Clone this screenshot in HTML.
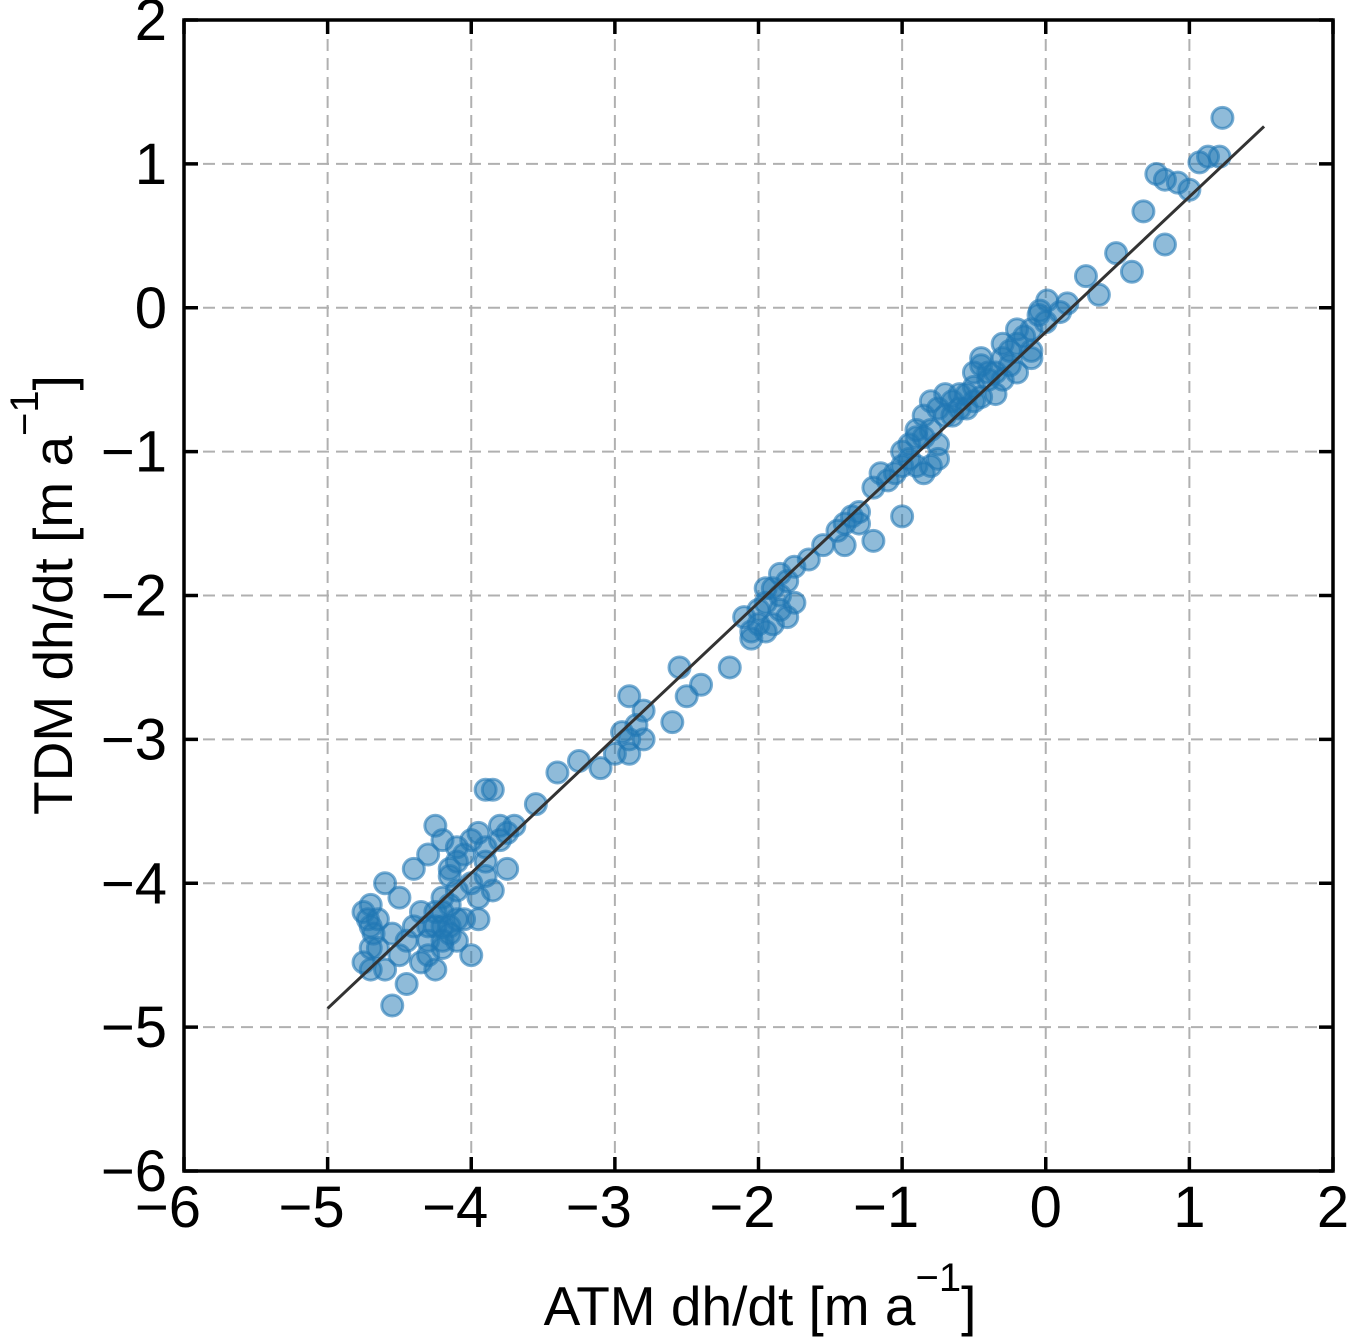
<!DOCTYPE html>
<html><head><meta charset="utf-8"><style>
body{margin:0;background:#fff}
svg{display:block;font-family:"Liberation Sans",Arial,sans-serif}
</style></head><body>
<svg id="chart" width="1349" height="1339" viewBox="0 0 1349 1339" xmlns="http://www.w3.org/2000/svg">
<g id="grid"></g>
<g id="pts"></g>
<g id="fit"></g>
<g id="axes"></g>
</svg>
<script>
const xTicks=[-6,-5,-4,-3,-2,-1,0,1,2];
const yTicks=[-6,-5,-4,-3,-2,-1,0,1,2];
const fitLine=[[-5,-4.87],[1.52,1.26]];
const xs=[1.23,1.13,1.21,1.07,0.77,0.83,0.92,1.00,0.68,0.83,0.49,0.60,0.28,0.37,0.01,0.15,-0.04,0.10,
-0.3,-0.2,-0.1,-0.15,-0.25,-0.35,-0.4,-0.45,-0.5,-0.45,-0.3,-0.2,-0.1,0,-0.05,-0.25,-0.35,-0.5,-0.55,-0.6,-0.65,-0.7,-0.75,-0.8,-0.6,-0.7,-0.85,-0.85,-0.8,-0.9,-0.75,-0.65,-0.55,-0.45,-0.4,-0.5,-0.3,-0.2,-0.1,
-1,-0.95,-1.0,-0.9,-0.85,-0.8,-0.75,-1.05,-1.1,-1.15,-0.95,-0.9,-1.2,-1.0,-1.2,-1.3,-1.35,-1.4,-1.45,-1.4,-1.3,-1.55,-1.65,-1.75,-1.8,-1.85,-1.9,-1.95,-2.0,-1.85,-1.8,-1.9,-2.0,-2.05,-2.1,-1.95,-1.75,-1.85,-1.95,-2.05,-2.2,-2.4,-2.55,-2.5,-2.6,-2.8,-2.9,-2.85,-2.9,-2.95,-2.8,-2.9,-3.0,-3.1,-3.25,-3.4,-3.55,-3.7,-3.75,-3.8,-3.85,-3.9,-3.8,-3.9,-3.95,-4.0,-4.05,-4.1,-4.15,-3.9,-3.85,-3.95,-4.0,-4.2,-4.25,-4.3,-4.15,-4.1,-4.2,-4.3,-4.25,-4.05,-4.0,-4.35,-4.45,-4.55,-4.6,-4.7,-4.75,-4.65,-4.7,-4.75,-4.7,-4.6,-4.5,-4.4,-4.45,-4.4,-4.3,-4.25,-4.2,-4.35,-4.5,-4.55,-4.65,-4.7,-4.15,-4.1,-4.2,-4.15,-4.1,-3.95,-3.9,-3.75,-4.2,-4.15,-4.25,-4.1,-4.3,-4.2,-4.72,-4.68];
const ys=[1.32,1.05,1.05,1.01,0.93,0.89,0.87,0.82,0.67,0.44,0.38,0.25,0.22,0.09,0.05,0.03,-0.02,-0.03,
-0.35,-0.25,-0.3,-0.2,-0.4,-0.45,-0.5,-0.4,-0.55,-0.35,-0.5,-0.45,-0.15,-0.1,-0.05,-0.3,-0.6,-0.65,-0.6,-0.7,-0.65,-0.75,-0.7,-0.65,-0.6,-0.6,-0.75,-0.9,-0.85,-0.9,-0.95,-0.75,-0.7,-0.62,-0.45,-0.45,-0.25,-0.15,-0.35,
-1.0,-1.05,-1.1,-1.1,-1.15,-1.1,-1.05,-1.15,-1.2,-1.15,-0.95,-0.85,-1.25,-1.45,-1.62,-1.5,-1.45,-1.5,-1.55,-1.65,-1.42,-1.65,-1.75,-1.8,-1.9,-2.0,-1.95,-2.05,-2.1,-2.1,-2.15,-2.2,-2.2,-2.25,-2.15,-2.25,-2.05,-1.85,-1.95,-2.3,-2.5,-2.62,-2.5,-2.7,-2.88,-2.8,-2.7,-2.9,-3.0,-2.95,-3.0,-3.1,-3.1,-3.2,-3.15,-3.23,-3.45,-3.6,-3.65,-3.6,-3.35,-3.35,-3.7,-3.75,-3.65,-3.7,-3.8,-3.75,-3.9,-3.95,-4.05,-4.1,-4.0,-4.1,-4.2,-4.3,-4.3,-4.4,-4.45,-4.5,-4.6,-4.25,-4.5,-4.55,-4.7,-4.85,-4.6,-4.6,-4.55,-4.45,-4.3,-4.2,-4.15,-4.0,-4.1,-4.3,-4.4,-3.9,-3.8,-3.6,-3.7,-4.2,-4.5,-4.35,-4.25,-4.45,-4.15,-4.05,-4.3,-3.95,-3.85,-4.25,-3.85,-3.9,-4.2,-4.35,-4.3,-4.25,-4.4,-4.4,-4.25,-4.35];
const L=184,R=1333,T=20,B=1171;
const X=v=>L+(v+6)/8*(R-L);
const Y=v=>B-(v+6)/8*(B-T);
const NS='http://www.w3.org/2000/svg';
function mk(tag,attrs,parent){const e=document.createElementNS(NS,tag);for(const k in attrs)e.setAttribute(k,attrs[k]);parent.appendChild(e);return e;}
const grid=document.getElementById('grid'),axes=document.getElementById('axes');
xTicks.forEach(t=>{
 if(t>-6&&t<2){const g=mk('line',{x1:X(t),x2:X(t),y1:T,y2:B,stroke:'#b0b0b0','stroke-width':2,'stroke-dasharray':'12,7'},grid);
 
 }
 const a=mk('line',{x1:X(t),x2:X(t),y1:B,y2:B-14,stroke:'#000','stroke-width':3.5},axes);
 
 
 const b=mk('line',{x1:X(t),x2:X(t),y1:T,y2:T+14,stroke:'#000','stroke-width':3.5},axes);
 
 
 const tx=mk('text',{x:X(t)-(t<0?16:0),y:1227,'font-size':58,'text-anchor':'middle'},axes);
 tx.textContent=(t<0?'\u2212':'')+Math.abs(t);
 
 
});
yTicks.forEach(t=>{
 if(t>-6&&t<2){const g=mk('line',{x1:L,x2:R,y1:Y(t),y2:Y(t),stroke:'#b0b0b0','stroke-width':2,'stroke-dasharray':'12,7'},grid);
 
 }
 const a=mk('line',{x1:L,x2:L+14,y1:Y(t),y2:Y(t),stroke:'#000','stroke-width':3.5},axes);
 
 
 const b=mk('line',{x1:R,x2:R-14,y1:Y(t),y2:Y(t),stroke:'#000','stroke-width':3.5},axes);
 
 
 const tx=mk('text',{x:167,y:Y(t)+20,'font-size':58,'text-anchor':'end'},axes);
 tx.textContent=(t<0?'\u2212':'')+Math.abs(t);
 
 
});
const frame=mk('rect',{x:L,y:T,width:R-L,height:B-T,fill:'none',stroke:'#000','stroke-width':3.5},axes);


const pts=document.getElementById('pts');
xs.forEach((v,i)=>{
 const c=mk('circle',{cx:X(v),cy:Y(ys[i]),r:10.5,fill:'rgba(31,119,180,0.5)',stroke:'rgba(31,119,180,0.6)','stroke-width':3},pts);
 
 
});
const fl=mk('line',{x1:X(fitLine[0][0]),y1:Y(fitLine[0][1]),x2:X(fitLine[1][0]),y2:Y(fitLine[1][1]),stroke:'#333','stroke-width':3},document.getElementById('fit'));


const xl=mk('text',{x:760,y:1325,'font-size':55,'text-anchor':'middle'},axes);
xl.innerHTML='ATM dh/dt [m a<tspan dy="-34" font-size="40">\u22121</tspan><tspan dy="34">]</tspan>';


const yl=mk('text',{x:0,y:0,'font-size':55,'text-anchor':'middle',transform:'translate(72,595) rotate(-90)'},axes);
yl.innerHTML='TDM dh/dt [m a<tspan dy="-34" font-size="40">\u22121</tspan><tspan dy="34">]</tspan>';


</script>
</body></html>
